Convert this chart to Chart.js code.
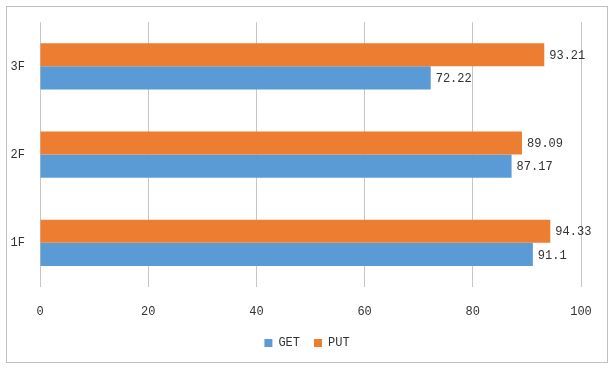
<!DOCTYPE html>
<html>
<head>
<meta charset="utf-8">
<script src="https://cdn.jsdelivr.net/npm/chart.js@4/dist/chart.umd.min.js"></script>
<style>
  html, body { margin: 0; padding: 0; background: #fff; }
  #wrap { width: 614px; height: 369px; position: relative; }
</style>
</head>
<body>
<div id="wrap"><canvas id="c" width="614" height="369"></canvas></div>
<script>
const categories = ['3F', '2F', '1F'];
const getValues = [72.22, 87.17, 91.1];
const putValues = [93.21, 89.09, 94.33];
const seriesNames = ['GET', 'PUT'];
const xMin = 0, xMax = 100, xStep = 20;

const FONT = 'Liberation Mono, DejaVu Sans Mono, monospace';
const TEXT = '#333333';

const frame = {
  id: 'frame',
  beforeDraw(chart) {
    const ctx = chart.ctx;
    ctx.save();
    ctx.fillStyle = '#fff';
    ctx.fillRect(0, 0, chart.width, chart.height);
    ctx.strokeStyle = '#bfbfbf';
    ctx.lineWidth = 1;
    ctx.strokeRect(6.5, 6.5, 601, 356);
    ctx.restore();
  },
  afterLayout(chart) {
    if (chart.legend) {
      chart.legend.left = 0;
      chart.legend.right = 614;
      if (chart.legend.adjustHitBoxes) chart.legend.adjustHitBoxes();
    }
  }
};

const valueLabels = {
  id: 'valueLabels',
  afterDatasetsDraw(chart) {
    const ctx = chart.ctx;
    ctx.save();
    ctx.font = '12px ' + FONT;
    ctx.fillStyle = TEXT;
    ctx.textAlign = 'left';
    ctx.textBaseline = 'middle';
    chart.data.datasets.forEach((ds, di) => {
      const meta = chart.getDatasetMeta(di);
      meta.data.forEach((bar, i) => {
        ctx.fillText(String(ds.data[i]), bar.x + 5, bar.y + 1);
      });
    });
    ctx.restore();
  }
};

new Chart(document.getElementById('c'), {
  type: 'bar',
  data: {
    labels: categories,
    datasets: [
      { label: seriesNames[1], data: putValues, backgroundColor: '#ED7D31', borderWidth: 0 },
      { label: seriesNames[0], data: getValues, backgroundColor: '#5B9BD5', borderWidth: 0 }
    ]
  },
  options: {
    indexAxis: 'y',
    responsive: false,
    animation: false,
    devicePixelRatio: 1,
    layout: { padding: { top: 18, right: 33, bottom: 10, left: 0 } },
    datasets: { bar: { categoryPercentage: 0.523, barPercentage: 1.0 } },
    scales: {
      x: {
        min: xMin, max: xMax,
        ticks: { stepSize: xStep, padding: 18, color: TEXT, font: { family: FONT, size: 12 } },
        grid: { color: '#c6c6c6', drawTicks: false },
        border: { display: false },
        afterFit(s) { s.height = 36; }
      },
      y: {
        ticks: { padding: 15, color: TEXT, font: { family: FONT, size: 12 } },
        grid: { display: false, drawTicks: false },
        border: { display: false },
        afterFit(s) { s.width = 40; }
      }
    },
    plugins: {
      legend: {
        position: 'bottom',
        reverse: true,
        labels: { boxWidth: 8, boxHeight: 8, padding: 14, color: TEXT, font: { family: FONT, size: 12 } }
      },
      tooltip: { enabled: false }
    }
  },
  plugins: [frame, valueLabels]
});
</script>
</body>
</html>
